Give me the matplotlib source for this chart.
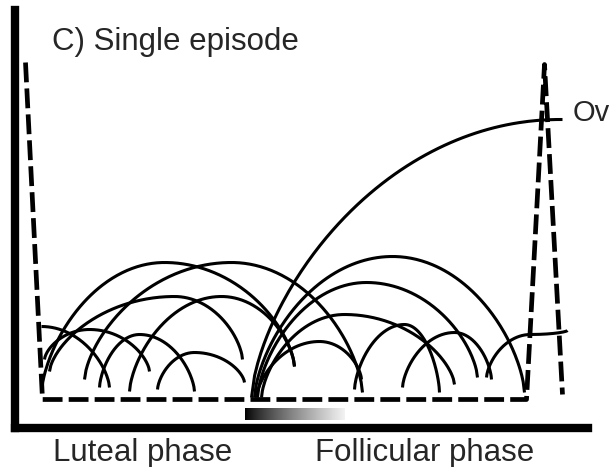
import numpy as np
import matplotlib
matplotlib.use('Agg')
import matplotlib.pyplot as plt

plt.rcParams['font.family'] = ['Liberation Sans', 'DejaVu Sans']

# hormone trace (dashed): luteal fall, baseline, LH surge
hormone_x = [11, 28, 512, 530, 548]
hormone_y = [365, 28, 28, 363, 33]

# follicle arcs: start (x, y), peak (x, y), end (x, y)
luteal_start = [(27, 35), (70, 48), (35, 56), (115, 36), (27, 101), (85, 40), (143, 38), (30, 68)]
luteal_peak = [(150, 165), (217, 165), (160, 131), (207, 131), (27, 101), (125, 93), (180, 75), (75, 98)]
luteal_end = [(280, 61), (348, 35), (228, 68), (280, 61), (95, 40), (180, 36), (230, 45), (135, 56)]

foll_start = [(240, 30), (243, 30), (247, 30), (242, 30), (340, 38), (388, 40), (472, 50)]
foll_peak = [(378, 171), (352, 145), (330, 113), (305, 86), (390, 103), (440, 95), (516, 93)]
foll_end = [(510, 35), (463, 50), (440, 43), (347, 48), (425, 35), (477, 48), (553, 97)]

# dominant follicle up to ovulation
ov_start = (237, 30)
ov_peak = (545, 308)
ov_end = (548, 308)

# FSH-like gradient bar
grad_x = [230, 330]
grad_y = [7, 19]


def arc_xy(p0, pk, p1, m=0.65, n=100):
    s = np.linspace(0, 1, n)
    x1 = p0[0] + (pk[0] - p0[0]) * s
    y1 = p0[1] + (pk[1] - p0[1]) * (1 - (1 - s) ** 2) ** m
    x2 = pk[0] + (p1[0] - pk[0]) * s
    y2 = p1[1] + (pk[1] - p1[1]) * (1 - s ** 2) ** m
    return np.concatenate([x1, x2]), np.concatenate([y1, y2])


fig = plt.figure(figsize=(6.13, 4.67), dpi=100)
ax = fig.add_axes([14.5 / 613, 39.5 / 467, 573.5 / 613, 417.5 / 467])
ax.set_xlim(0, 573.5)
ax.set_ylim(0, 417.5)
for s in ['top', 'right']:
    ax.spines[s].set_visible(False)
for s in ['left', 'bottom']:
    ax.spines[s].set_linewidth(6)
    ax.spines[s].set_capstyle('projecting')
ax.set_xticks([])
ax.set_yticks([])

ax.plot(hormone_x, hormone_y, color='k', lw=3.4, dashes=(4.2, 1.3))

for p0, pk, p1 in zip(luteal_start, luteal_peak, luteal_end):
    x, y = arc_xy(p0, pk, p1)
    ax.plot(x, y, color='k', lw=2.2, solid_capstyle='butt')
for p0, pk, p1 in zip(foll_start, foll_peak, foll_end):
    x, y = arc_xy(p0, pk, p1)
    ax.plot(x, y, color='k', lw=2.2, solid_capstyle='butt')
x, y = arc_xy(ov_start, ov_peak, ov_end)
ax.plot(x, y, color='k', lw=2.2, solid_capstyle='butt')

grad = np.linspace(0, 1, 256).reshape(1, -1) ** 0.8
ax.imshow(grad, cmap='gray', extent=[grad_x[0], grad_x[1], grad_y[0], grad_y[1]],
          aspect='auto', vmin=0, vmax=1.05, zorder=1)

tc = '#262626'
fig.text(52 / 613, 1 - 50 / 467, 'C) Single episode', fontsize=22.5, color=tc, va='baseline')
fig.text(573 / 613, 1 - 121 / 467, 'Ov', fontsize=21, color=tc, va='baseline')
fig.text(53 / 613, 1 - 461 / 467, 'Luteal phase', fontsize=22.5, color=tc, va='baseline')
fig.text(315 / 613, 1 - 461 / 467, 'Follicular phase', fontsize=22.5, color=tc, va='baseline')

fig.savefig('out.png', dpi=100)
